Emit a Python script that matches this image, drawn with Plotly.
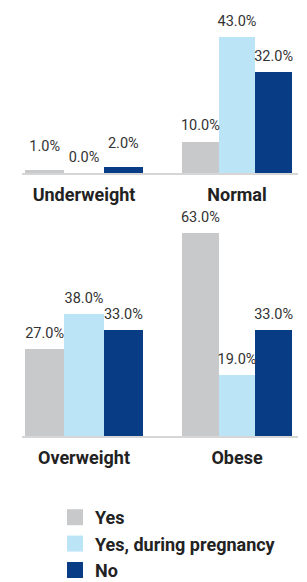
import plotly.graph_objects as go

# ---- data ----
categories = ["Underweight", "Normal", "Overweight", "Obese"]
series_names = ["Yes", "Yes, during pregnancy", "No"]
yes_vals = [1.0, 10.0, 27.0, 63.0]
preg_vals = [0.0, 43.0, 38.0, 19.0]
no_vals = [2.0, 32.0, 33.0, 33.0]

# ---- styles ----
colors = ["#c8c9cb", "#bbe4f7", "#083d86"]
series_values = [yes_vals, preg_vals, no_vals]
OFF = 8                       # default page body margin
W, H = 307 - OFF, 582 - OFF   # figure size inside the page
font_fam = "Roboto, DejaVu Sans Condensed, sans-serif"

# label gap (invisible marker size used to lift value labels); per series, per panel
label_gap = [[23, 10, 10, 10], [10, 10, 10, 10], [23, 10, 10, 10]]

# panel geometry in page px: (x0, x1, center, groupwidth) and row (base, range max, px per unit)
panels_x = [(22, 154, 84, 118), (154, 298, 237, 110), (22, 154, 84, 118), (154, 298, 237, 110)]
rows_y = [(173, 50, 3.163), (173, 50, 3.163), (436, 65, 3.22), (436, 65, 3.22)]


def fx(px):
    return (px - OFF) / W


def fy(py):
    return 1 - (py - OFF) / H


fig = go.Figure()

for p, cat in enumerate(categories):
    xa = "x" if p == 0 else f"x{p+1}"
    ya = "y" if p == 0 else f"y{p+1}"
    for s, name in enumerate(series_names):
        v = series_values[s][p]
        fig.add_trace(go.Bar(
            x=[cat], y=[v], xaxis=xa, yaxis=ya,
            marker=dict(color=colors[s], line=dict(width=0)),
            name=name, showlegend=False, offsetgroup=str(s),
        ))
        fig.add_trace(go.Scatter(
            x=[cat], y=[v], xaxis=xa, yaxis=ya,
            mode="markers+text",
            marker=dict(size=label_gap[s][p], opacity=0, color=colors[s]),
            text=[f"{v:.1f}%"], textposition="top center",
            textfont=dict(family=font_fam, size=14.5, color="#333333"),
            showlegend=False, offsetgroup=str(s), cliponaxis=False,
        ))

# legend entries
for s, name in enumerate(series_names):
    fig.add_trace(go.Scatter(
        x=[None], y=[None], mode="markers", name=name,
        marker=dict(symbol="square", size=16, color=colors[s]),
        showlegend=True,
    ))

layout = dict(
    width=W, height=H,
    margin=dict(l=0, r=0, t=0, b=0, autoexpand=False),
    paper_bgcolor="white", plot_bgcolor="white",
    barmode="group", bargap=0, bargroupgap=0,
    scattermode="group", scattergap=0,
    hovermode=False,
    showlegend=True,
    legend=dict(
        x=fx(55), y=fy(499), xanchor="left", yanchor="top",
        font=dict(family=font_fam, size=18, color="#222222", weight="bold"),
        bgcolor="rgba(0,0,0,0)", borderwidth=0,
        itemsizing="trace",
    ),
)

for p in range(4):
    x0, x1, c, gw = panels_x[p]
    base, rmax, scale = rows_y[p]
    top = base - rmax * scale
    xk = "xaxis" if p == 0 else f"xaxis{p+1}"
    yk = "yaxis" if p == 0 else f"yaxis{p+1}"
    ya = "y" if p == 0 else f"y{p+1}"
    xa = "x" if p == 0 else f"x{p+1}"
    layout[xk] = dict(
        domain=[fx(x0), min(fx(x1), 1.0)], anchor=ya, type="category",
        range=[-(c - x0) / gw, (x1 - c) / gw],
        showline=True, linecolor="#d6d6d6", linewidth=2,
        ticks="", showgrid=False, zeroline=False, fixedrange=True,
        ticklabelstandoff=4,
        tickfont=dict(family=font_fam, size=18, color="#222222", weight="bold"),
    )
    layout[yk] = dict(
        domain=[fy(base), fy(top)], anchor=xa,
        range=[0, rmax], visible=False, showgrid=False, zeroline=False,
        fixedrange=True,
    )

fig.update_layout(**layout)
fig.write_html("out.html", config={"displayModeBar": False})
